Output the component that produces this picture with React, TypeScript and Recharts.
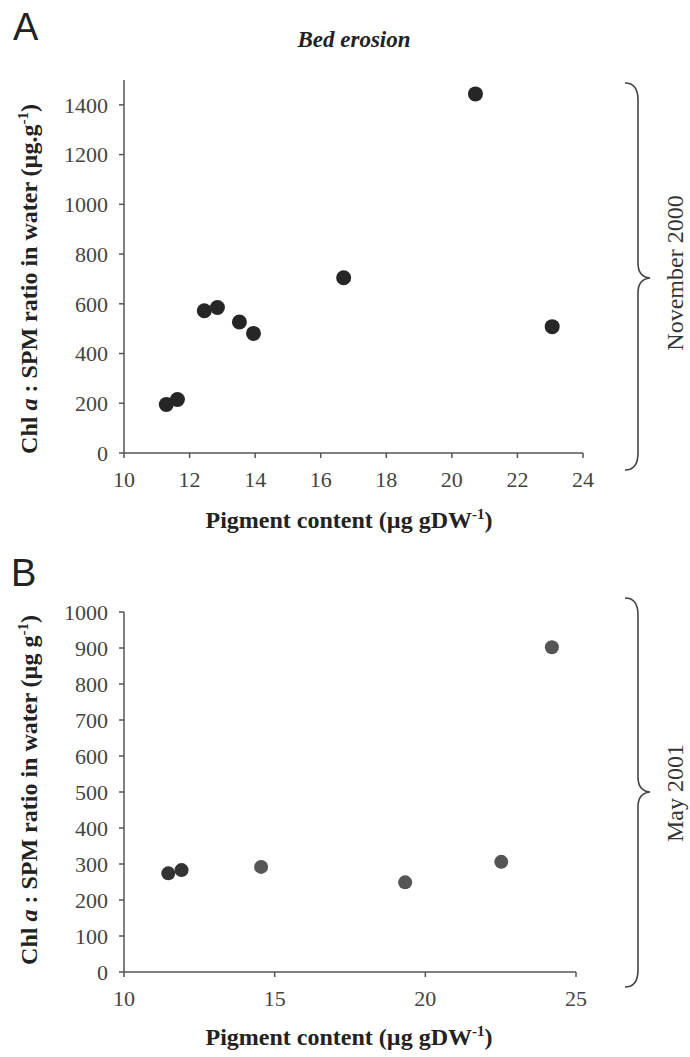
import { Cell, Scatter, ScatterChart, XAxis, YAxis } from "recharts";

// Panel A: November 2000
const novPigment = [11.29, 11.63, 12.45, 12.85, 13.52, 13.95, 16.7, 20.72, 23.06];
const novRatio = [195, 215, 572, 585, 527, 481, 705, 1444, 508];
const novXTicks = [10, 12, 14, 16, 18, 20, 22, 24];
const novYTicks = [0, 200, 400, 600, 800, 1000, 1200, 1400];

// Panel B: May 2001
const mayPigment = [11.47, 11.91, 14.55, 19.33, 22.52, 24.2];
const mayRatio = [274, 283, 292, 249, 306, 902];
const mayColors = ["#333", "#333", "#555", "#555", "#555", "#555"];
const mayXTicks = [10, 15, 20, 25];
const mayYTicks = [0, 100, 200, 300, 400, 500, 600, 700, 800, 900, 1000];

const novData = novPigment.map((x, i) => ({ x, y: novRatio[i] }));
const mayData = mayPigment.map((x, i) => ({ x, y: mayRatio[i] }));

const serif = "'Liberation Serif', 'Times New Roman', serif";
const axisStroke = "#555";
const tickStyle = { fill: "#444", fontSize: 22, fontFamily: serif };

const dot = (r: number) => (p: any) => <circle cx={p.cx} cy={p.cy} r={r} fill={p.fill} />;

function Brace({ top, tip, bottom }: { top: number; tip: number; bottom: number }) {
  const spine = 638;
  return (
    <path
      d={`M625,${top} Q${spine},${top} ${spine},${top + 17} L${spine},${tip - 15} Q${spine},${tip - 1} 650,${tip} Q${spine},${tip + 1} ${spine},${tip + 15} L${spine},${bottom - 17} Q${spine},${bottom} 625,${bottom}`}
      fill="none"
      stroke="#444"
      strokeWidth={1.6}
    />
  );
}

function YTitle({ cy, unit }: { cy: number; unit: string }) {
  return (
    <text
      x={29}
      y={cy}
      dy="0.35em"
      transform={`rotate(-90, 29, ${cy})`}
      textAnchor="middle"
      fontFamily={serif}
      fontWeight="bold"
      fontSize={24}
      fill="#222"
    >
      Chl <tspan fontStyle="italic">a</tspan> : SPM ratio in water ({unit}
      <tspan dy={-9} fontSize={15}>-1</tspan>
      <tspan dy={9}>)</tspan>
    </text>
  );
}

function XTitle({ y }: { y: number }) {
  return (
    <text x={349} y={y} textAnchor="middle" fontFamily={serif} fontWeight="bold" fontSize={24} fill="#222">
      Pigment content (µg gDW
      <tspan dy={-9} fontSize={15}>-1</tspan>
      <tspan dy={9}>)</tspan>
    </text>
  );
}

export default function App() {
  return (
    <div style={{ position: "absolute", left: 0, top: 0, width: 690, height: 1057, background: "#fff" }}>
      <div style={{ position: "absolute", left: 0, top: 0 }}>
        <ScatterChart width={690} height={560} margin={{ top: 80, right: 107, left: 54, bottom: 67 }}>
          <XAxis
            type="number"
            dataKey="x"
            domain={[10, 24]}
            ticks={novXTicks}
            height={40}
            tickSize={5}
            tickMargin={13}
            stroke={axisStroke}
            strokeWidth={1.5}
            tick={tickStyle}
          />
          <YAxis
            type="number"
            dataKey="y"
            domain={[0, 1500]}
            ticks={novYTicks}
            width={70}
            tickSize={5}
            tickMargin={11}
            stroke={axisStroke}
            strokeWidth={1.5}
            tick={tickStyle}
          />
          <Scatter data={novData} fill="#262626" shape={dot(7.5)} isAnimationActive={false} />
        </ScatterChart>
      </div>
      <div style={{ position: "absolute", left: 0, top: 540 }}>
        <ScatterChart width={690} height={517} margin={{ top: 72, right: 114, left: 54, bottom: 45 }}>
          <XAxis
            type="number"
            dataKey="x"
            domain={[10, 25]}
            ticks={mayXTicks}
            height={40}
            tickSize={5}
            tickMargin={13}
            stroke={axisStroke}
            strokeWidth={1.5}
            tick={tickStyle}
          />
          <YAxis
            type="number"
            dataKey="y"
            domain={[0, 1000]}
            ticks={mayYTicks}
            width={70}
            tickSize={5}
            tickMargin={11}
            stroke={axisStroke}
            strokeWidth={1.5}
            tick={tickStyle}
          />
          <Scatter data={mayData} shape={dot(7)} isAnimationActive={false}>
            {mayData.map((_, i) => (
              <Cell key={i} fill={mayColors[i]} />
            ))}
          </Scatter>
        </ScatterChart>
      </div>
      <svg width={690} height={1057} style={{ position: "absolute", left: 0, top: 0, pointerEvents: "none" }}>
        <text x={13} y={40} fontFamily="'Liberation Sans', Arial, sans-serif" fontSize={38} fill="#222">
          A
        </text>
        <text x={11} y={586} fontFamily="'Liberation Sans', Arial, sans-serif" fontSize={38} fill="#222">
          B
        </text>
        <text
          x={354}
          y={47}
          textAnchor="middle"
          fontFamily={serif}
          fontWeight="bold"
          fontStyle="italic"
          fontSize={23}
          fill="#222"
        >
          Bed erosion
        </text>
        <YTitle cy={279} unit="µg.g" />
        <YTitle cy={790} unit="µg g" />
        <XTitle y={528} />
        <XTitle y={1045} />
        <Brace top={83} tip={278} bottom={470} />
        <Brace top={598} tip={792} bottom={987} />
        <text
          x={675}
          y={273}
          dy="0.35em"
          transform="rotate(-90, 675, 273)"
          textAnchor="middle"
          fontFamily={serif}
          fontSize={24}
          fill="#333"
        >
          November 2000
        </text>
        <text
          x={675}
          y={793}
          dy="0.35em"
          transform="rotate(-90, 675, 793)"
          textAnchor="middle"
          fontFamily={serif}
          fontSize={24}
          fill="#333"
        >
          May 2001
        </text>
      </svg>
    </div>
  );
}
